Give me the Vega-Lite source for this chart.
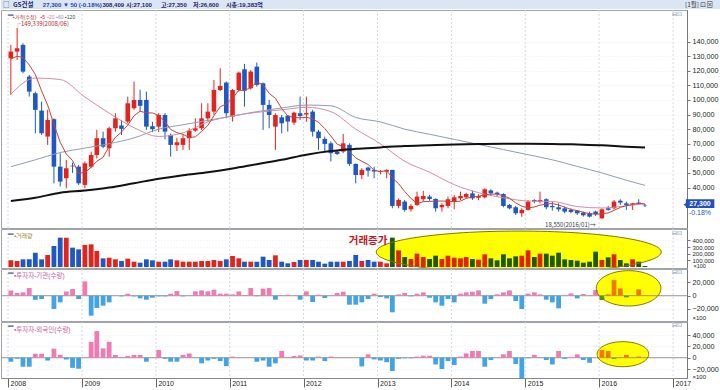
{
"$schema": "https://vega.github.io/schema/vega-lite/v6.json",
"padding": 0,
"background": "#ffffff",
"spacing": 1,
"bounds": "flush",
"config": {
 "view": {"stroke": "#a0a4aa", "strokeWidth": 1},
 "font": "Noto Sans CJK KR",
 "axis": {"labelOverlap": false, "labelSeparation": 0}
},
"datasets": {
 "yrs": [{"t":"2008-01-01"},{"t":"2009-01-01"},{"t":"2010-01-01"},{"t":"2011-01-01"},{"t":"2012-01-01"},{"t":"2013-01-01"},{"t":"2014-01-01"},{"t":"2015-01-01"},{"t":"2016-01-01"},{"t":"2017-01-01"}],
 "m": [
{"d":"2008-01-15","o":128500,"h":137700,"l":103400,"c":133100,"m5":128000,"v":100000,"ins":8000,"frn":-7000},
{"d":"2008-02-15","o":133100,"h":149300,"l":127400,"c":135400,"m5":130000,"v":90000,"ins":4000,"frn":-2000},
{"d":"2008-03-15","o":137700,"h":138800,"l":118300,"c":119400,"m5":129000,"v":115000,"ins":5000,"frn":-16000},
{"d":"2008-04-15","o":116000,"h":117100,"l":102300,"c":105700,"m5":124000,"v":115000,"ins":11500,"frn":-16000},
{"d":"2008-05-15","o":104600,"h":105700,"l":77200,"c":93200,"m5":117400,"v":215000,"ins":-6000,"frn":7000},
{"d":"2008-06-15","o":92700,"h":98900,"l":76000,"c":77200,"m5":106200,"v":115000,"ins":-5000,"frn":7000},
{"d":"2008-07-15","o":74900,"h":93200,"l":69200,"c":86300,"m5":96400,"v":180000,"ins":500,"frn":-5000},
{"d":"2008-08-15","o":86800,"h":87400,"l":42900,"c":54300,"m5":83300,"v":315000,"ins":-20000,"frn":16000},
{"d":"2008-09-15","o":54300,"h":63500,"l":40700,"c":44100,"m5":71000,"v":440000,"ins":-10000,"frn":5000},
{"d":"2008-10-15","o":46400,"h":58900,"l":39500,"c":53200,"m5":63000,"v":440000,"ins":6500,"frn":-3000},
{"d":"2008-11-15","o":55000,"h":57000,"l":50000,"c":54500,"m5":58500,"v":290000,"ins":10000,"frn":-18000},
{"d":"2008-12-15","o":54300,"h":55500,"l":41800,"c":42900,"m5":49800,"v":265000,"ins":-5000,"frn":-19500},
{"d":"2009-01-15","o":41800,"h":57800,"l":39500,"c":56600,"m5":50300,"v":330000,"ins":21500,"frn":500},
{"d":"2009-02-15","o":54300,"h":64600,"l":53200,"c":62300,"m5":53900,"v":340000,"ins":-30000,"frn":28000},
{"d":"2009-03-15","o":62300,"h":79500,"l":60000,"c":73800,"m5":58000,"v":240000,"ins":-18500,"frn":47000},
{"d":"2009-04-15","o":73800,"h":78300,"l":66900,"c":68000,"m5":60700,"v":130000,"ins":-15000,"frn":16500},
{"d":"2009-05-15","o":66900,"h":81700,"l":61200,"c":80600,"m5":68300,"v":140000,"ins":-10000,"frn":28000},
{"d":"2009-06-15","o":80600,"h":90900,"l":78300,"c":87400,"m5":74400,"v":115000,"ins":500,"frn":5000},
{"d":"2009-07-15","o":82500,"h":86000,"l":76000,"c":80200,"m5":78000,"v":90000,"ins":-1000,"frn":1000},
{"d":"2009-08-15","o":85200,"h":102300,"l":84000,"c":97700,"m5":82800,"v":125000,"ins":3000,"frn":3000},
{"d":"2009-09-15","o":94300,"h":112600,"l":93200,"c":100000,"m5":89200,"v":80000,"ins":-1000,"frn":5000},
{"d":"2009-10-15","o":100000,"h":107000,"l":92000,"c":96000,"m5":92300,"v":65000,"ins":-4000,"frn":5000},
{"d":"2009-11-15","o":100000,"h":105700,"l":79500,"c":81700,"m5":91100,"v":115000,"ins":-6000,"frn":-7000},
{"d":"2009-12-15","o":82000,"h":85000,"l":78000,"c":80000,"m5":91100,"v":100000,"ins":-3000,"frn":500},
{"d":"2010-01-15","o":81700,"h":91000,"l":78000,"c":89700,"m5":89500,"v":80000,"ins":-1000,"frn":13500},
{"d":"2010-02-15","o":89700,"h":91000,"l":73000,"c":78300,"m5":85100,"v":80000,"ins":-1000,"frn":-2000},
{"d":"2010-03-15","o":76000,"h":77000,"l":61200,"c":69200,"m5":79800,"v":115000,"ins":3000,"frn":-7000},
{"d":"2010-04-15","o":69000,"h":74000,"l":65000,"c":71000,"m5":77600,"v":100000,"ins":7000,"frn":-7000},
{"d":"2010-05-15","o":69200,"h":76000,"l":65800,"c":73800,"m5":76400,"v":80000,"ins":-1000,"frn":5000},
{"d":"2010-06-15","o":73800,"h":80600,"l":65800,"c":79000,"m5":74300,"v":80000,"ins":500,"frn":7500},
{"d":"2010-07-15","o":79000,"h":87400,"l":78300,"c":80600,"m5":74700,"v":80000,"ins":6500,"frn":500},
{"d":"2010-08-15","o":80600,"h":97700,"l":79500,"c":87400,"m5":78400,"v":90000,"ins":8000,"frn":-10000},
{"d":"2010-09-15","o":87400,"h":97700,"l":85200,"c":92000,"m5":82600,"v":90000,"ins":6500,"frn":-5000},
{"d":"2010-10-15","o":92000,"h":113700,"l":89700,"c":106800,"m5":89200,"v":105000,"ins":9000,"frn":-2000},
{"d":"2010-11-15","o":106800,"h":121700,"l":106000,"c":109600,"m5":95300,"v":90000,"ins":3000,"frn":-6000},
{"d":"2010-12-15","o":111900,"h":112600,"l":87400,"c":90900,"m5":97300,"v":115000,"ins":3000,"frn":-15000},
{"d":"2011-01-15","o":88600,"h":107500,"l":85200,"c":106800,"m5":101200,"v":165000,"ins":2000,"frn":2000},
{"d":"2011-02-15","o":106800,"h":119400,"l":105700,"c":118700,"m5":106600,"v":130000,"ins":6500,"frn":500},
{"d":"2011-03-15","o":121000,"h":124700,"l":95400,"c":106400,"m5":106500,"v":80000,"ins":1000,"frn":500},
{"d":"2011-04-15","o":108000,"h":120500,"l":107000,"c":119400,"m5":108400,"v":80000,"ins":11500,"frn":500},
{"d":"2011-05-15","o":122800,"h":125600,"l":109100,"c":110300,"m5":112300,"v":80000,"ins":-1000,"frn":-7000},
{"d":"2011-06-15","o":111400,"h":112000,"l":79500,"c":96600,"m5":110300,"v":155000,"ins":10500,"frn":-5000},
{"d":"2011-07-15","o":96600,"h":100000,"l":80600,"c":89700,"m5":104500,"v":105000,"ins":11500,"frn":-16000},
{"d":"2011-08-15","o":81700,"h":90900,"l":65800,"c":89700,"m5":101100,"v":175000,"ins":-6000,"frn":-10000},
{"d":"2011-09-15","o":88100,"h":89700,"l":77200,"c":84000,"m5":94100,"v":80000,"ins":500,"frn":12000},
{"d":"2011-10-15","o":89200,"h":89700,"l":78300,"c":85200,"m5":89000,"v":55000,"ins":1500,"frn":500},
{"d":"2011-11-15","o":84500,"h":92000,"l":82900,"c":91300,"m5":88000,"v":75000,"ins":500,"frn":3000},
{"d":"2011-12-15","o":90900,"h":102300,"l":86300,"c":89000,"m5":87800,"v":105000,"ins":-6000,"frn":4000},
{"d":"2012-01-15","o":90000,"h":102300,"l":85000,"c":91000,"m5":88100,"v":105000,"ins":6500,"frn":-5000},
{"d":"2012-02-15","o":92000,"h":93200,"l":74900,"c":78300,"m5":87000,"v":105000,"ins":-9500,"frn":-5000},
{"d":"2012-03-15","o":78300,"h":79500,"l":65800,"c":73800,"m5":84700,"v":80000,"ins":1500,"frn":2000},
{"d":"2012-04-15","o":73300,"h":74900,"l":64600,"c":69900,"m5":80400,"v":50000,"ins":-3500,"frn":-6000},
{"d":"2012-05-15","o":70300,"h":71500,"l":57800,"c":63500,"m5":75300,"v":80000,"ins":500,"frn":2000},
{"d":"2012-06-15","o":64600,"h":65800,"l":62300,"c":63000,"m5":69700,"v":80000,"ins":4000,"frn":500},
{"d":"2012-07-15","o":64600,"h":76700,"l":63500,"c":70300,"m5":68100,"v":80000,"ins":6000,"frn":500},
{"d":"2012-08-15","o":69200,"h":70300,"l":54800,"c":56200,"m5":64600,"v":90000,"ins":-13500,"frn":1000},
{"d":"2012-09-15","o":56200,"h":56500,"l":42900,"c":48600,"m5":60300,"v":180000,"ins":-13500,"frn":500},
{"d":"2012-10-15","o":48600,"h":53200,"l":45700,"c":52100,"m5":58000,"v":90000,"ins":-10000,"frn":-15500},
{"d":"2012-11-15","o":53700,"h":54300,"l":47500,"c":51600,"m5":55800,"v":105000,"ins":-5000,"frn":6000},
{"d":"2012-12-15","o":52100,"h":54300,"l":46400,"c":51000,"m5":51900,"v":80000,"ins":3000,"frn":-3000},
{"d":"2013-01-15","o":51000,"h":52000,"l":49000,"c":51400,"m5":50900,"v":80000,"ins":-2000,"frn":-5000},
{"d":"2013-02-15","o":51000,"h":52500,"l":46400,"c":52100,"m5":51600,"v":55000,"ins":-4000,"frn":-8000},
{"d":"2013-03-15","o":52100,"h":52100,"l":25800,"c":27400,"m5":46600,"v":440000,"ins":-25000,"frn":-23600},
{"d":"2013-04-15","o":27400,"h":32600,"l":25800,"c":31500,"m5":42600,"v":250000,"ins":2000,"frn":-2000},
{"d":"2013-05-15","o":30400,"h":31500,"l":23500,"c":24700,"m5":37300,"v":150000,"ins":4000,"frn":-1000},
{"d":"2013-06-15","o":25100,"h":28800,"l":23500,"c":27400,"m5":32600,"v":120000,"ins":-1000,"frn":-1000},
{"d":"2013-07-15","o":28100,"h":37200,"l":27400,"c":33800,"m5":29000,"v":200000,"ins":3000,"frn":2000},
{"d":"2013-08-15","o":32000,"h":37700,"l":30400,"c":34200,"m5":30300,"v":150000,"ins":5000,"frn":3500},
{"d":"2013-09-15","o":33800,"h":35000,"l":31000,"c":32200,"m5":30500,"v":120000,"ins":-3000,"frn":3500},
{"d":"2013-10-15","o":32200,"h":32600,"l":23500,"c":25800,"m5":30700,"v":170000,"ins":-10000,"frn":-12000},
{"d":"2013-11-15","o":26500,"h":29200,"l":23500,"c":28100,"m5":30800,"v":120000,"ins":-15000,"frn":-20000},
{"d":"2013-12-15","o":27400,"h":33800,"l":25800,"c":32000,"m5":30500,"v":170000,"ins":-5000,"frn":-6000},
{"d":"2014-01-15","o":30400,"h":34900,"l":25100,"c":33300,"m5":30300,"v":140000,"ins":-10000,"frn":-13000},
{"d":"2014-02-15","o":32600,"h":37200,"l":31500,"c":34200,"m5":30700,"v":130000,"ins":3000,"frn":2000},
{"d":"2014-03-15","o":33300,"h":36500,"l":32600,"c":35600,"m5":32600,"v":150000,"ins":5000,"frn":7700},
{"d":"2014-04-15","o":36000,"h":37900,"l":31500,"c":32600,"m5":33500,"v":120000,"ins":6000,"frn":12000},
{"d":"2014-05-15","o":33000,"h":35300,"l":31300,"c":34300,"m5":34000,"v":110000,"ins":8000,"frn":12000},
{"d":"2014-06-15","o":33300,"h":39500,"l":32600,"c":38800,"m5":35100,"v":190000,"ins":-12000,"frn":-16000},
{"d":"2014-07-15","o":38000,"h":38800,"l":34300,"c":36100,"m5":35500,"v":130000,"ins":-5000,"frn":-4000},
{"d":"2014-08-15","o":36500,"h":37200,"l":33800,"c":35600,"m5":35500,"v":100000,"ins":2000,"frn":1000},
{"d":"2014-09-15","o":35600,"h":36100,"l":26500,"c":27400,"m5":34400,"v":190000,"ins":5000,"frn":6000},
{"d":"2014-10-15","o":28100,"h":28800,"l":25100,"c":25800,"m5":32700,"v":130000,"ins":8000,"frn":12000},
{"d":"2014-11-15","o":26500,"h":27400,"l":21200,"c":22400,"m5":29500,"v":160000,"ins":-8000,"frn":-11000},
{"d":"2014-12-15","o":22400,"h":25800,"l":20000,"c":24700,"m5":27200,"v":170000,"ins":-20000,"frn":-36500},
{"d":"2015-01-15","o":24700,"h":31500,"l":24200,"c":30400,"m5":26100,"v":250000,"ins":3000,"frn":-1000},
{"d":"2015-02-15","o":31500,"h":32000,"l":29200,"c":30400,"m5":26700,"v":150000,"ins":5000,"frn":5000},
{"d":"2015-03-15","o":30400,"h":37200,"l":29200,"c":31500,"m5":27900,"v":200000,"ins":2000,"frn":1000},
{"d":"2015-04-15","o":32000,"h":32600,"l":25100,"c":26500,"m5":28700,"v":200000,"ins":-6000,"frn":-4000},
{"d":"2015-05-15","o":27400,"h":30400,"l":24200,"c":26500,"m5":29100,"v":170000,"ins":-10000,"frn":-12000},
{"d":"2015-06-15","o":26500,"h":29200,"l":23500,"c":25100,"m5":28000,"v":215000,"ins":-19000,"frn":12000},
{"d":"2015-07-15","o":25800,"h":26900,"l":22400,"c":23500,"m5":26600,"v":115000,"ins":500,"frn":-2000},
{"d":"2015-08-15","o":24700,"h":25800,"l":22400,"c":23300,"m5":25000,"v":105000,"ins":3500,"frn":1500},
{"d":"2015-09-15","o":24200,"h":24700,"l":21200,"c":22400,"m5":24200,"v":95000,"ins":-4000,"frn":6000},
{"d":"2015-10-15","o":22800,"h":23500,"l":20100,"c":21000,"m5":23100,"v":65000,"ins":2500,"frn":-4000},
{"d":"2015-11-15","o":22400,"h":23500,"l":19500,"c":20100,"m5":22100,"v":80000,"ins":500,"frn":-9000},
{"d":"2015-12-15","o":23500,"h":24200,"l":20500,"c":21900,"m5":21700,"v":230000,"ins":8500,"frn":500},
{"d":"2016-01-15","o":18950,"h":25800,"l":18550,"c":25100,"m5":22100,"v":105000,"ins":-6500,"frn":13500},
{"d":"2016-02-15","o":25800,"h":27400,"l":24200,"c":24700,"m5":22600,"v":145000,"ins":2000,"frn":12000},
{"d":"2016-03-15","o":25800,"h":31500,"l":25100,"c":30400,"m5":24400,"v":190000,"ins":23500,"frn":-2000},
{"d":"2016-04-15","o":31000,"h":32000,"l":28100,"c":29700,"m5":26400,"v":105000,"ins":11000,"frn":500},
{"d":"2016-05-15","o":29200,"h":30400,"l":24700,"c":28100,"m5":27600,"v":55000,"ins":-2500,"frn":5000},
{"d":"2016-06-15","o":28500,"h":29500,"l":24700,"c":29200,"m5":28400,"v":115000,"ins":500,"frn":500},
{"d":"2016-07-15","o":29700,"h":32000,"l":28100,"c":28800,"m5":29200,"v":80000,"ins":9500,"frn":2000},
{"d":"2016-08-15","o":27600,"h":28800,"l":26600,"c":27300,"m5":28600,"v":15000,"ins":500,"frn":500}
 ],
 "ma": [
{"d":"2008-01-15","a":104000,"b":54300,"k":30800},
{"d":"2008-05-15","a":115000,"b":59000,"k":33000},
{"d":"2008-09-15","a":114000,"b":64000,"k":36500},
{"d":"2009-01-15","a":102000,"b":67000,"k":38000},
{"d":"2009-05-15","a":91000,"b":70000,"k":40000},
{"d":"2009-09-15","a":81000,"b":74000,"k":43000},
{"d":"2010-01-15","a":75000,"b":80000,"k":46000},
{"d":"2010-05-15","a":77500,"b":83000,"k":48500},
{"d":"2010-09-15","a":85000,"b":86000,"k":50500},
{"d":"2011-01-15","a":89000,"b":89000,"k":53000},
{"d":"2011-05-15","a":91500,"b":92000,"k":56000},
{"d":"2011-09-15","a":93200,"b":94500,"k":59000},
{"d":"2012-01-15","a":95000,"b":96500,"k":62500},
{"d":"2012-05-15","a":92000,"b":96000,"k":65000},
{"d":"2012-09-15","a":80000,"b":88000,"k":66500},
{"d":"2013-01-15","a":70000,"b":85000,"k":67500},
{"d":"2013-05-15","a":58000,"b":80000,"k":68500},
{"d":"2013-09-15","a":50500,"b":76500,"k":69000},
{"d":"2014-01-15","a":42000,"b":73000,"k":69500},
{"d":"2014-05-15","a":36500,"b":69500,"k":69800},
{"d":"2014-09-15","a":33000,"b":66000,"k":70000},
{"d":"2015-01-15","a":30800,"b":62500,"k":70000},
{"d":"2015-05-15","a":30500,"b":59000,"k":69900},
{"d":"2015-09-15","a":27000,"b":54500,"k":69500},
{"d":"2016-01-15","a":26000,"b":50000,"k":69000},
{"d":"2016-05-15","a":27500,"b":45000,"k":68000},
{"d":"2016-08-15","a":29000,"b":41500,"k":67500}
 ]
},
"vconcat": [
 {
  "width": 686, "height": 9,
  "view": {"stroke": null},
  "layer": [
   {"data": {"values": [{"s": "2007-12-22", "e": "2017-08-20"}]},
    "mark": {"type": "rect", "color": "#dbe6f5"},
    "encoding": {"x": {"field": "s", "type": "temporal", "scale": {"type": "utc", "domain": [1198281600000, 1487030400000]}, "axis": null}, "x2": {"field": "e"}}},
   {"data": {"values": [{"d": "2008-01-01", "t": "□"}, {"d": "2017-02-04", "t": "[1월]  ⊡⊠"}]},
    "mark": {"type": "text", "align": "left", "baseline": "middle", "fontSize": 6.5, "color": "#333333"},
    "encoding": {"x": {"field": "d", "type": "temporal", "axis": null}, "text": {"field": "t"}}},
   {"data": {"values": [{"d": "2008-02-18", "t": "GS건설"}]},
    "mark": {"type": "text", "align": "left", "baseline": "middle", "fontSize": 6.5, "fontWeight": "bold", "color": "#1b2470"},
    "encoding": {"x": {"field": "d", "type": "temporal", "axis": null}, "text": {"field": "t"}}},
   {"data": {"values": [{"d": "2009-04-29", "t": "308,409"}, {"d": "2009-08-22", "t": "시:27,100"}, {"d": "2010-02-08", "t": "고:27,350"}, {"d": "2010-07-14", "t": "저:26,600"}, {"d": "2010-12-22", "t": "시총:19,383억"}]},
    "mark": {"type": "text", "align": "left", "baseline": "middle", "fontSize": 6, "fontWeight": "bold", "font": "'Liberation Sans','Noto Sans CJK KR'", "color": "#1b2470"},
    "encoding": {"x": {"field": "d", "type": "temporal", "axis": null}, "text": {"field": "t"}}},
   {"data": {"values": [{"d": "2008-07-13", "t": "27,300 ▼ 50 (-0.18%)"}]},
    "mark": {"type": "text", "align": "left", "baseline": "middle", "fontSize": 6, "fontWeight": "bold", "font": "'Liberation Sans','Noto Sans CJK KR'", "color": "#1f3fc0"},
    "encoding": {"x": {"field": "d", "type": "temporal", "axis": null}, "text": {"field": "t"}}}
  ]
 },
 {
  "width": 686, "height": 218,
  "layer": [
   {"data": {"name": "yrs"},
    "mark": {"type": "rule", "color": "#d3d9e2", "strokeDash": [2, 2], "strokeWidth": 1},
    "encoding": {"x": {"field": "t", "type": "temporal", "scale": {"type": "utc", "domain": [1198281600000, 1487030400000]}, "axis": null}}},
   {"data": {"name": "m"},
    "mark": {"type": "rule", "strokeWidth": 1},
    "encoding": {
     "x": {"field": "d", "type": "temporal", "axis": null},
     "y": {"field": "l", "type": "quantitative", "scale": {"domain": [12300, 161600], "nice": false, "zero": false}, "axis": {"orient": "right", "title": null, "grid": true, "gridColor": "#e9edf2", "gridDash": [1, 2], "format": ",d", "values": [40000, 50000, 60000, 70000, 80000, 90000, 100000, 110000, 120000, 130000, 140000], "labelOverlap": false, "labelSeparation": 0, "labelFont": "Liberation Sans", "labelFontSize": 7.2, "labelColor": "#222222", "tickSize": 3, "tickColor": "#777777", "domainColor": "#777777", "labelPadding": 2}},
     "y2": {"field": "h"},
     "color": {"condition": {"test": "datum.c >= datum.o", "value": "#e3241d"}, "value": "#1e58c4"}
    }},
   {"data": {"name": "m"},
    "mark": {"type": "bar", "width": 4.6},
    "encoding": {
     "x": {"field": "d", "type": "temporal", "axis": null},
     "y": {"field": "o", "type": "quantitative", "axis": {"orient": "right", "title": null, "grid": true, "gridColor": "#e9edf2", "gridDash": [1, 2], "format": ",d", "values": [40000, 50000, 60000, 70000, 80000, 90000, 100000, 110000, 120000, 130000, 140000], "labelOverlap": false, "labelSeparation": 0, "labelFont": "Liberation Sans", "labelFontSize": 7.2, "labelColor": "#222222", "tickSize": 3, "tickColor": "#777777", "domainColor": "#777777", "labelPadding": 2}},
     "y2": {"field": "c"},
     "color": {"condition": {"test": "datum.c >= datum.o", "value": "#e3241d"}, "value": "#1e58c4"}
    }},
   {"data": {"name": "ma"},
    "mark": {"type": "line", "strokeWidth": 1, "color": "#909db3", "interpolate": "monotone"},
    "encoding": {"x": {"field": "d", "type": "temporal", "axis": null}, "y": {"field": "b", "type": "quantitative", "axis": {"orient": "right", "title": null, "grid": true, "gridColor": "#e9edf2", "gridDash": [1, 2], "format": ",d", "values": [40000, 50000, 60000, 70000, 80000, 90000, 100000, 110000, 120000, 130000, 140000], "labelOverlap": false, "labelSeparation": 0, "labelFont": "Liberation Sans", "labelFontSize": 7.2, "labelColor": "#222222", "tickSize": 3, "tickColor": "#777777", "domainColor": "#777777", "labelPadding": 2}}}},
   {"data": {"name": "ma"},
    "mark": {"type": "line", "strokeWidth": 1, "color": "#d98aa8", "interpolate": "monotone"},
    "encoding": {"x": {"field": "d", "type": "temporal", "axis": null}, "y": {"field": "a", "type": "quantitative", "axis": {"orient": "right", "title": null, "grid": true, "gridColor": "#e9edf2", "gridDash": [1, 2], "format": ",d", "values": [40000, 50000, 60000, 70000, 80000, 90000, 100000, 110000, 120000, 130000, 140000], "labelOverlap": false, "labelSeparation": 0, "labelFont": "Liberation Sans", "labelFontSize": 7.2, "labelColor": "#222222", "tickSize": 3, "tickColor": "#777777", "domainColor": "#777777", "labelPadding": 2}}}},
   {"data": {"name": "m"},
    "mark": {"type": "line", "strokeWidth": 1, "color": "#c2453e"},
    "encoding": {"x": {"field": "d", "type": "temporal", "axis": null}, "y": {"field": "m5", "type": "quantitative", "axis": {"orient": "right", "title": null, "grid": true, "gridColor": "#e9edf2", "gridDash": [1, 2], "format": ",d", "values": [40000, 50000, 60000, 70000, 80000, 90000, 100000, 110000, 120000, 130000, 140000], "labelOverlap": false, "labelSeparation": 0, "labelFont": "Liberation Sans", "labelFontSize": 7.2, "labelColor": "#222222", "tickSize": 3, "tickColor": "#777777", "domainColor": "#777777", "labelPadding": 2}}}},
   {"data": {"name": "ma"},
    "mark": {"type": "line", "strokeWidth": 2, "color": "#111111", "interpolate": "monotone"},
    "encoding": {"x": {"field": "d", "type": "temporal", "axis": null}, "y": {"field": "k", "type": "quantitative", "axis": {"orient": "right", "title": null, "grid": true, "gridColor": "#e9edf2", "gridDash": [1, 2], "format": ",d", "values": [40000, 50000, 60000, 70000, 80000, 90000, 100000, 110000, 120000, 130000, 140000], "labelOverlap": false, "labelSeparation": 0, "labelFont": "Liberation Sans", "labelFontSize": 7.2, "labelColor": "#222222", "tickSize": 3, "tickColor": "#777777", "domainColor": "#777777", "labelPadding": 2}}}},
   {"data": {"values": [{"d": "2008-01-01", "p": 158800, "t": "▬"}, {"d": "2016-12-26", "p": 158800, "t": "⊟⊡"}]},
    "mark": {"type": "text", "align": "left", "baseline": "middle", "fontSize": 5.5, "font": "'Liberation Sans','Noto Sans CJK KR'", "color": "#6f7fa6"},
    "encoding": {"x": {"field": "d", "type": "temporal", "axis": null}, "y": {"field": "p", "type": "quantitative", "axis": {"orient": "right", "title": null, "grid": true, "gridColor": "#e9edf2", "gridDash": [1, 2], "format": ",d", "values": [40000, 50000, 60000, 70000, 80000, 90000, 100000, 110000, 120000, 130000, 140000], "labelOverlap": false, "labelSeparation": 0, "labelFont": "Liberation Sans", "labelFontSize": 7.2, "labelColor": "#222222", "tickSize": 3, "tickColor": "#777777", "domainColor": "#777777", "labelPadding": 2}}, "text": {"field": "t"}}},
   {"data": {"values": [{"d": "2008-01-25", "p": 157000, "t": "▪가격(수정)"}, {"d": "2008-06-10", "p": 157000, "t": "▪5"}]},
    "mark": {"type": "text", "align": "left", "baseline": "middle", "fontSize": 5, "font": "'Liberation Sans','Noto Sans CJK KR'", "color": "#b0302a"},
    "encoding": {"x": {"field": "d", "type": "temporal", "axis": null}, "y": {"field": "p", "type": "quantitative", "axis": {"orient": "right", "title": null, "grid": true, "gridColor": "#e9edf2", "gridDash": [1, 2], "format": ",d", "values": [40000, 50000, 60000, 70000, 80000, 90000, 100000, 110000, 120000, 130000, 140000], "labelOverlap": false, "labelSeparation": 0, "labelFont": "Liberation Sans", "labelFontSize": 7.2, "labelColor": "#222222", "tickSize": 3, "tickColor": "#777777", "domainColor": "#777777", "labelPadding": 2}}, "text": {"field": "t"}}},
   {"data": {"values": [{"d": "2008-07-13", "p": 157000, "t": "▪20"}]},
    "mark": {"type": "text", "align": "left", "baseline": "middle", "fontSize": 5, "font": "'Liberation Sans','Noto Sans CJK KR'", "color": "#e07aa6"},
    "encoding": {"x": {"field": "d", "type": "temporal", "axis": null}, "y": {"field": "p", "type": "quantitative", "axis": {"orient": "right", "title": null, "grid": true, "gridColor": "#e9edf2", "gridDash": [1, 2], "format": ",d", "values": [40000, 50000, 60000, 70000, 80000, 90000, 100000, 110000, 120000, 130000, 140000], "labelOverlap": false, "labelSeparation": 0, "labelFont": "Liberation Sans", "labelFontSize": 7.2, "labelColor": "#222222", "tickSize": 3, "tickColor": "#777777", "domainColor": "#777777", "labelPadding": 2}}, "text": {"field": "t"}}},
   {"data": {"values": [{"d": "2008-08-26", "p": 157000, "t": "▪60"}]},
    "mark": {"type": "text", "align": "left", "baseline": "middle", "fontSize": 5, "font": "'Liberation Sans','Noto Sans CJK KR'", "color": "#8a98b0"},
    "encoding": {"x": {"field": "d", "type": "temporal", "axis": null}, "y": {"field": "p", "type": "quantitative", "axis": {"orient": "right", "title": null, "grid": true, "gridColor": "#e9edf2", "gridDash": [1, 2], "format": ",d", "values": [40000, 50000, 60000, 70000, 80000, 90000, 100000, 110000, 120000, 130000, 140000], "labelOverlap": false, "labelSeparation": 0, "labelFont": "Liberation Sans", "labelFontSize": 7.2, "labelColor": "#222222", "tickSize": 3, "tickColor": "#777777", "domainColor": "#777777", "labelPadding": 2}}, "text": {"field": "t"}}},
   {"data": {"values": [{"d": "2008-10-09", "p": 157000, "t": "▪120"}]},
    "mark": {"type": "text", "align": "left", "baseline": "middle", "fontSize": 5, "font": "'Liberation Sans','Noto Sans CJK KR'", "color": "#444444"},
    "encoding": {"x": {"field": "d", "type": "temporal", "axis": null}, "y": {"field": "p", "type": "quantitative", "axis": {"orient": "right", "title": null, "grid": true, "gridColor": "#e9edf2", "gridDash": [1, 2], "format": ",d", "values": [40000, 50000, 60000, 70000, 80000, 90000, 100000, 110000, 120000, 130000, 140000], "labelOverlap": false, "labelSeparation": 0, "labelFont": "Liberation Sans", "labelFontSize": 7.2, "labelColor": "#222222", "tickSize": 3, "tickColor": "#777777", "domainColor": "#777777", "labelPadding": 2}}, "text": {"field": "t"}}},
   {"data": {"values": [{"d": "2008-02-04", "p": 152300, "t": "┌149,339(2008/06)"}]},
    "mark": {"type": "text", "align": "left", "baseline": "middle", "fontSize": 6, "color": "#a82c2c"},
    "encoding": {"x": {"field": "d", "type": "temporal", "axis": null}, "y": {"field": "p", "type": "quantitative", "axis": {"orient": "right", "title": null, "grid": true, "gridColor": "#e9edf2", "gridDash": [1, 2], "format": ",d", "values": [40000, 50000, 60000, 70000, 80000, 90000, 100000, 110000, 120000, 130000, 140000], "labelOverlap": false, "labelSeparation": 0, "labelFont": "Liberation Sans", "labelFontSize": 7.2, "labelColor": "#222222", "tickSize": 3, "tickColor": "#777777", "domainColor": "#777777", "labelPadding": 2}}, "text": {"field": "t"}}},
   {"data": {"values": [{"d": "2015-04-09", "p": 14400, "t": "18,550(2016/01)→"}]},
    "mark": {"type": "text", "align": "left", "baseline": "middle", "fontSize": 6, "color": "#333a55"},
    "encoding": {"x": {"field": "d", "type": "temporal", "axis": null}, "y": {"field": "p", "type": "quantitative", "axis": {"orient": "right", "title": null, "grid": true, "gridColor": "#e9edf2", "gridDash": [1, 2], "format": ",d", "values": [40000, 50000, 60000, 70000, 80000, 90000, 100000, 110000, 120000, 130000, 140000], "labelOverlap": false, "labelSeparation": 0, "labelFont": "Liberation Sans", "labelFontSize": 7.2, "labelColor": "#222222", "tickSize": 3, "tickColor": "#777777", "domainColor": "#777777", "labelPadding": 2}}, "text": {"field": "t"}}},
   {"data": {"values": [{"d1": "2017-03-05", "d2": "2017-07-24", "p1": 26000, "p2": 32000}]},
    "mark": {"type": "rect", "color": "#2350c0"},
    "encoding": {"x": {"field": "d1", "type": "temporal", "axis": null}, "x2": {"field": "d2"}, "y": {"field": "p1", "type": "quantitative", "axis": {"orient": "right", "title": null, "grid": true, "gridColor": "#e9edf2", "gridDash": [1, 2], "format": ",d", "values": [40000, 50000, 60000, 70000, 80000, 90000, 100000, 110000, 120000, 130000, 140000], "labelOverlap": false, "labelSeparation": 0, "labelFont": "Liberation Sans", "labelFontSize": 7.2, "labelColor": "#222222", "tickSize": 3, "tickColor": "#777777", "domainColor": "#777777", "labelPadding": 2}}, "y2": {"field": "p2"}}},
   {"data": {"values": [{"d": "2017-02-19", "p": 29000, "t": "◀"}]},
    "mark": {"type": "text", "align": "left", "baseline": "middle", "fontSize": 5, "font": "'Liberation Sans','Noto Sans CJK KR'", "color": "#2350c0"},
    "encoding": {"x": {"field": "d", "type": "temporal", "axis": null}, "y": {"field": "p", "type": "quantitative", "axis": {"orient": "right", "title": null, "grid": true, "gridColor": "#e9edf2", "gridDash": [1, 2], "format": ",d", "values": [40000, 50000, 60000, 70000, 80000, 90000, 100000, 110000, 120000, 130000, 140000], "labelOverlap": false, "labelSeparation": 0, "labelFont": "Liberation Sans", "labelFontSize": 7.2, "labelColor": "#222222", "tickSize": 3, "tickColor": "#777777", "domainColor": "#777777", "labelPadding": 2}}, "text": {"field": "t"}}},
   {"data": {"values": [{"d": "2017-05-14", "p": 29000, "t": "27,300"}]},
    "mark": {"type": "text", "align": "center", "baseline": "middle", "fontSize": 7, "font": "Liberation Sans", "fontWeight": "bold", "color": "#ffffff"},
    "encoding": {"x": {"field": "d", "type": "temporal", "axis": null}, "y": {"field": "p", "type": "quantitative", "axis": {"orient": "right", "title": null, "grid": true, "gridColor": "#e9edf2", "gridDash": [1, 2], "format": ",d", "values": [40000, 50000, 60000, 70000, 80000, 90000, 100000, 110000, 120000, 130000, 140000], "labelOverlap": false, "labelSeparation": 0, "labelFont": "Liberation Sans", "labelFontSize": 7.2, "labelColor": "#222222", "tickSize": 3, "tickColor": "#777777", "domainColor": "#777777", "labelPadding": 2}}, "text": {"field": "t"}}},
   {"data": {"values": [{"d": "2017-05-14", "p": 22600, "t": "-0.18%"}]},
    "mark": {"type": "text", "align": "center", "baseline": "middle", "fontSize": 7, "font": "Liberation Sans", "color": "#2a50b8"},
    "encoding": {"x": {"field": "d", "type": "temporal", "axis": null}, "y": {"field": "p", "type": "quantitative", "axis": {"orient": "right", "title": null, "grid": true, "gridColor": "#e9edf2", "gridDash": [1, 2], "format": ",d", "values": [40000, 50000, 60000, 70000, 80000, 90000, 100000, 110000, 120000, 130000, 140000], "labelOverlap": false, "labelSeparation": 0, "labelFont": "Liberation Sans", "labelFontSize": 7.2, "labelColor": "#222222", "tickSize": 3, "tickColor": "#777777", "domainColor": "#777777", "labelPadding": 2}}, "text": {"field": "t"}}}
  ]
 },
 {
  "width": 686, "height": 39,
  "layer": [
   {"data": {"name": "yrs"},
    "mark": {"type": "rule", "color": "#d3d9e2", "strokeDash": [2, 2], "strokeWidth": 1},
    "encoding": {"x": {"field": "t", "type": "temporal", "scale": {"type": "utc", "domain": [1198281600000, 1487030400000]}, "axis": null}}},
   {"data": {"values": [{"d": "2014-11-30", "v": 225000}]},
    "mark": {"type": "point", "shape": "M-1,0C-1,-0.0812,-0.5523,-0.147,0,-0.147C0.5523,-0.147,1,-0.0812,1,0C1,0.0812,0.5523,0.147,0,0.147C-0.5523,0.147,-1,0.0812,-1,0Z", "size": 81225, "filled": true, "color": "#ffff00", "opacity": 1, "strokeWidth": 0, "clip": true},
    "encoding": {"x": {"field": "d", "type": "temporal", "axis": null}, "y": {"field": "v", "type": "quantitative", "scale": {"domain": [-15000, 570000], "nice": false}, "axis": {"orient": "right", "title": "×100", "grid": true, "gridColor": "#e9edf2", "gridDash": [1, 2], "format": ",d", "values": [100000, 200000, 300000, 400000], "labelOverlap": false, "labelSeparation": 0, "labelFont": "Liberation Sans", "labelFontSize": 6, "labelColor": "#222222", "tickSize": 3, "tickColor": "#777777", "domainColor": "#777777", "labelPadding": 2, "titleFont": "Liberation Sans", "titleFontSize": 5.5, "titleFontWeight": "normal", "titleColor": "#222222", "titleAngle": 0, "titleAlign": "left", "titleBaseline": "middle", "titleX": 6, "titleY": 36}}}},
   {"data": {"name": "m"},
    "mark": {"type": "bar", "width": 4.8},
    "encoding": {
     "x": {"field": "d", "type": "temporal", "axis": null},
     "y": {"field": "v", "type": "quantitative", "axis": {"orient": "right", "title": "×100", "grid": true, "gridColor": "#e9edf2", "gridDash": [1, 2], "format": ",d", "values": [100000, 200000, 300000, 400000], "labelOverlap": false, "labelSeparation": 0, "labelFont": "Liberation Sans", "labelFontSize": 6, "labelColor": "#222222", "tickSize": 3, "tickColor": "#777777", "domainColor": "#777777", "labelPadding": 2, "titleFont": "Liberation Sans", "titleFontSize": 5.5, "titleFontWeight": "normal", "titleColor": "#222222", "titleAngle": 0, "titleAlign": "left", "titleBaseline": "middle", "titleX": 6, "titleY": 36}},
     "color": {"condition": [{"test": "time(datum.d) >= 1362096000000 && datum.c >= datum.o", "value": "#e02400"}, {"test": "time(datum.d) >= 1362096000000", "value": "#1e5a0a"}, {"test": "datum.c >= datum.o", "value": "#e3241d"}], "value": "#1e58c4"}
    }},
   {"data": {"values": [{"d": "2014-11-30", "v": 225000}]},
    "mark": {"type": "point", "shape": "M-1,0C-1,-0.0812,-0.5523,-0.147,0,-0.147C0.5523,-0.147,1,-0.0812,1,0C1,0.0812,0.5523,0.147,0,0.147C-0.5523,0.147,-1,0.0812,-1,0Z", "size": 81225, "filled": false, "color": "#8a7400", "opacity": 1, "strokeWidth": 1, "clip": true},
    "encoding": {"x": {"field": "d", "type": "temporal", "axis": null}, "y": {"field": "v", "type": "quantitative", "axis": {"orient": "right", "title": "×100", "grid": true, "gridColor": "#e9edf2", "gridDash": [1, 2], "format": ",d", "values": [100000, 200000, 300000, 400000], "labelOverlap": false, "labelSeparation": 0, "labelFont": "Liberation Sans", "labelFontSize": 6, "labelColor": "#222222", "tickSize": 3, "tickColor": "#777777", "domainColor": "#777777", "labelPadding": 2, "titleFont": "Liberation Sans", "titleFontSize": 5.5, "titleFontWeight": "normal", "titleColor": "#222222", "titleAngle": 0, "titleAlign": "left", "titleBaseline": "middle", "titleX": 6, "titleY": 36}}}},
   {"data": {"values": [{"d": "2008-01-01", "v": 510000, "t": "▬"}, {"d": "2016-12-26", "v": 510000, "t": "⊟⊡"}]},
    "mark": {"type": "text", "align": "left", "baseline": "middle", "fontSize": 5.5, "font": "'Liberation Sans','Noto Sans CJK KR'", "color": "#6f7fa6"},
    "encoding": {"x": {"field": "d", "type": "temporal", "axis": null}, "y": {"field": "v", "type": "quantitative", "axis": {"orient": "right", "title": "×100", "grid": true, "gridColor": "#e9edf2", "gridDash": [1, 2], "format": ",d", "values": [100000, 200000, 300000, 400000], "labelOverlap": false, "labelSeparation": 0, "labelFont": "Liberation Sans", "labelFontSize": 6, "labelColor": "#222222", "tickSize": 3, "tickColor": "#777777", "domainColor": "#777777", "labelPadding": 2, "titleFont": "Liberation Sans", "titleFontSize": 5.5, "titleFontWeight": "normal", "titleColor": "#222222", "titleAngle": 0, "titleAlign": "left", "titleBaseline": "middle", "titleX": 6, "titleY": 36}}, "text": {"field": "t"}}},
   {"data": {"values": [{"d": "2008-01-30", "v": 462000, "t": "▪거래량"}]},
    "mark": {"type": "text", "align": "left", "baseline": "middle", "fontSize": 6, "font": "'Liberation Sans','Noto Sans CJK KR'", "color": "#a08c2c"},
    "encoding": {"x": {"field": "d", "type": "temporal", "axis": null}, "y": {"field": "v", "type": "quantitative", "axis": {"orient": "right", "title": "×100", "grid": true, "gridColor": "#e9edf2", "gridDash": [1, 2], "format": ",d", "values": [100000, 200000, 300000, 400000], "labelOverlap": false, "labelSeparation": 0, "labelFont": "Liberation Sans", "labelFontSize": 6, "labelColor": "#222222", "tickSize": 3, "tickColor": "#777777", "domainColor": "#777777", "labelPadding": 2, "titleFont": "Liberation Sans", "titleFontSize": 5.5, "titleFontWeight": "normal", "titleColor": "#222222", "titleAngle": 0, "titleAlign": "left", "titleBaseline": "middle", "titleX": 6, "titleY": 36}}, "text": {"field": "t"}}},
   {"data": {"values": [{"d": "2012-11-15", "v": 390000, "t": "거래증가"}]},
    "mark": {"type": "text", "align": "center", "baseline": "middle", "fontSize": 10.5, "fontWeight": "bold", "color": "#c3161c"},
    "encoding": {"x": {"field": "d", "type": "temporal", "axis": null}, "y": {"field": "v", "type": "quantitative", "axis": {"orient": "right", "title": "×100", "grid": true, "gridColor": "#e9edf2", "gridDash": [1, 2], "format": ",d", "values": [100000, 200000, 300000, 400000], "labelOverlap": false, "labelSeparation": 0, "labelFont": "Liberation Sans", "labelFontSize": 6, "labelColor": "#222222", "tickSize": 3, "tickColor": "#777777", "domainColor": "#777777", "labelPadding": 2, "titleFont": "Liberation Sans", "titleFontSize": 5.5, "titleFontWeight": "normal", "titleColor": "#222222", "titleAngle": 0, "titleAlign": "left", "titleBaseline": "middle", "titleX": 6, "titleY": 36}}, "text": {"field": "t"}}}
  ]
 },
 {
  "width": 686, "height": 52,
  "layer": [
   {"data": {"name": "yrs"},
    "mark": {"type": "rule", "color": "#d3d9e2", "strokeDash": [2, 2], "strokeWidth": 1},
    "encoding": {"x": {"field": "t", "type": "temporal", "scale": {"type": "utc", "domain": [1198281600000, 1487030400000]}, "axis": null}}},
   {"data": {"values": [{"d": "2016-05-26", "v": 11100}]},
    "mark": {"type": "point", "shape": "M-1,0C-1,-0.3016,-0.5523,-0.546,0,-0.546C0.5523,-0.546,1,-0.3016,1,0C1,0.3016,0.5523,0.546,0,0.546C-0.5523,0.546,-1,0.3016,-1,0Z", "size": 4186, "filled": true, "color": "#ffff00", "opacity": 1, "strokeWidth": 0, "clip": true},
    "encoding": {"x": {"field": "d", "type": "temporal", "axis": null}, "y": {"field": "v", "type": "quantitative", "scale": {"domain": [-38050, 40160], "nice": false}, "axis": {"orient": "right", "title": "×100", "grid": true, "gridColor": "#e9edf2", "gridDash": [1, 2], "format": ",d", "values": [-20000, 0, 20000], "labelOverlap": false, "labelSeparation": 0, "labelFont": "Liberation Sans", "labelFontSize": 7.2, "labelColor": "#222222", "tickSize": 3, "tickColor": "#777777", "domainColor": "#777777", "labelPadding": 2, "titleFont": "Liberation Sans", "titleFontSize": 6, "titleFontWeight": "normal", "titleColor": "#222222", "titleAngle": 0, "titleAlign": "left", "titleBaseline": "middle", "titleX": 5, "titleY": 48}}}},
   {"data": {"values": [{"z": 0}]},
    "mark": {"type": "rule", "color": "#9a9a9a", "strokeWidth": 1},
    "encoding": {"y": {"field": "z", "type": "quantitative", "axis": {"orient": "right", "title": "×100", "grid": true, "gridColor": "#e9edf2", "gridDash": [1, 2], "format": ",d", "values": [-20000, 0, 20000], "labelOverlap": false, "labelSeparation": 0, "labelFont": "Liberation Sans", "labelFontSize": 7.2, "labelColor": "#222222", "tickSize": 3, "tickColor": "#777777", "domainColor": "#777777", "labelPadding": 2, "titleFont": "Liberation Sans", "titleFontSize": 6, "titleFontWeight": "normal", "titleColor": "#222222", "titleAngle": 0, "titleAlign": "left", "titleBaseline": "middle", "titleX": 5, "titleY": 48}}}},
   {"data": {"name": "m"},
    "mark": {"type": "bar", "width": 4.8},
    "encoding": {
     "x": {"field": "d", "type": "temporal", "axis": null},
     "y": {"field": "ins", "type": "quantitative", "axis": {"orient": "right", "title": "×100", "grid": true, "gridColor": "#e9edf2", "gridDash": [1, 2], "format": ",d", "values": [-20000, 0, 20000], "labelOverlap": false, "labelSeparation": 0, "labelFont": "Liberation Sans", "labelFontSize": 7.2, "labelColor": "#222222", "tickSize": 3, "tickColor": "#777777", "domainColor": "#777777", "labelPadding": 2, "titleFont": "Liberation Sans", "titleFontSize": 6, "titleFontWeight": "normal", "titleColor": "#222222", "titleAngle": 0, "titleAlign": "left", "titleBaseline": "middle", "titleX": 5, "titleY": 48}},
     "color": {"condition": [{"test": "time(datum.d) >= 1451606400000 && datum.ins >= 0", "value": "#f07a00"}, {"test": "time(datum.d) >= 1451606400000", "value": "#43a300"}, {"test": "datum.ins >= 0", "value": "#f07ab2"}], "value": "#43a3e4"}
    }},
   {"data": {"values": [{"d": "2016-05-26", "v": 11100}]},
    "mark": {"type": "point", "shape": "M-1,0C-1,-0.3016,-0.5523,-0.546,0,-0.546C0.5523,-0.546,1,-0.3016,1,0C1,0.3016,0.5523,0.546,0,0.546C-0.5523,0.546,-1,0.3016,-1,0Z", "size": 4186, "filled": false, "color": "#8a7400", "opacity": 1, "strokeWidth": 1, "clip": true},
    "encoding": {"x": {"field": "d", "type": "temporal", "axis": null}, "y": {"field": "v", "type": "quantitative", "axis": {"orient": "right", "title": "×100", "grid": true, "gridColor": "#e9edf2", "gridDash": [1, 2], "format": ",d", "values": [-20000, 0, 20000], "labelOverlap": false, "labelSeparation": 0, "labelFont": "Liberation Sans", "labelFontSize": 7.2, "labelColor": "#222222", "tickSize": 3, "tickColor": "#777777", "domainColor": "#777777", "labelPadding": 2, "titleFont": "Liberation Sans", "titleFontSize": 6, "titleFontWeight": "normal", "titleColor": "#222222", "titleAngle": 0, "titleAlign": "left", "titleBaseline": "middle", "titleX": 5, "titleY": 48}}}},
   {"data": {"values": [{"d": "2008-01-01", "v": 35500, "t": "▬"}, {"d": "2016-12-26", "v": 35500, "t": "⊟⊡"}]},
    "mark": {"type": "text", "align": "left", "baseline": "middle", "fontSize": 5.5, "font": "'Liberation Sans','Noto Sans CJK KR'", "color": "#6f7fa6"},
    "encoding": {"x": {"field": "d", "type": "temporal", "axis": null}, "y": {"field": "v", "type": "quantitative", "axis": {"orient": "right", "title": "×100", "grid": true, "gridColor": "#e9edf2", "gridDash": [1, 2], "format": ",d", "values": [-20000, 0, 20000], "labelOverlap": false, "labelSeparation": 0, "labelFont": "Liberation Sans", "labelFontSize": 7.2, "labelColor": "#222222", "tickSize": 3, "tickColor": "#777777", "domainColor": "#777777", "labelPadding": 2, "titleFont": "Liberation Sans", "titleFontSize": 6, "titleFontWeight": "normal", "titleColor": "#222222", "titleAngle": 0, "titleAlign": "left", "titleBaseline": "middle", "titleX": 5, "titleY": 48}}, "text": {"field": "t"}}},
   {"data": {"values": [{"d": "2008-01-30", "v": 29600, "t": "▪투자자-기관(수량)"}]},
    "mark": {"type": "text", "align": "left", "baseline": "middle", "fontSize": 6.5, "font": "'Liberation Sans','Noto Sans CJK KR'", "color": "#d0589a"},
    "encoding": {"x": {"field": "d", "type": "temporal", "axis": null}, "y": {"field": "v", "type": "quantitative", "axis": {"orient": "right", "title": "×100", "grid": true, "gridColor": "#e9edf2", "gridDash": [1, 2], "format": ",d", "values": [-20000, 0, 20000], "labelOverlap": false, "labelSeparation": 0, "labelFont": "Liberation Sans", "labelFontSize": 7.2, "labelColor": "#222222", "tickSize": 3, "tickColor": "#777777", "domainColor": "#777777", "labelPadding": 2, "titleFont": "Liberation Sans", "titleFontSize": 6, "titleFontWeight": "normal", "titleColor": "#222222", "titleAngle": 0, "titleAlign": "left", "titleBaseline": "middle", "titleX": 5, "titleY": 48}}, "text": {"field": "t"}}}
  ]
 },
 {
  "width": 686, "height": 56,
  "layer": [
   {"data": {"name": "yrs"},
    "mark": {"type": "rule", "color": "#d3d9e2", "strokeDash": [2, 2], "strokeWidth": 1},
    "encoding": {"x": {"field": "t", "type": "temporal", "scale": {"type": "utc", "domain": [1198281600000, 1487030400000]}, "axis": {"title": null, "grid": false, "format": "%Y", "tickCount": {"interval": "year", "step": 1}, "labelAlign": "left", "labelBaseline": "top", "labelOffset": 2, "tickSize": 9, "labelPadding": -8, "labelFlush": false, "labelOverlap": false, "labelFont": "Liberation Sans", "labelFontSize": 7, "labelColor": "#222222", "tickColor": "#666666", "domainColor": "#888888"}}}},
   {"data": {"values": [{"d": "2016-04-28", "v": 6200}]},
    "mark": {"type": "point", "shape": "M-1,0C-1,-0.2673,-0.5523,-0.484,0,-0.484C0.5523,-0.484,1,-0.2673,1,0C1,0.2673,0.5523,0.484,0,0.484C-0.5523,0.484,-1,0.2673,-1,0Z", "size": 2673, "filled": true, "color": "#ffff00", "opacity": 1, "strokeWidth": 0, "clip": true},
    "encoding": {"x": {"field": "d", "type": "temporal", "title": null}, "y": {"field": "v", "type": "quantitative", "scale": {"domain": [-35930, 63190], "nice": false}, "axis": {"orient": "right", "title": "×100", "grid": true, "gridColor": "#e9edf2", "gridDash": [1, 2], "format": ",d", "values": [-20000, 0, 20000, 40000], "labelOverlap": false, "labelSeparation": 0, "labelFont": "Liberation Sans", "labelFontSize": 7.2, "labelColor": "#222222", "tickSize": 3, "tickColor": "#777777", "domainColor": "#777777", "labelPadding": 2, "titleFont": "Liberation Sans", "titleFontSize": 6, "titleFontWeight": "normal", "titleColor": "#222222", "titleAngle": 0, "titleAlign": "left", "titleBaseline": "middle", "titleX": 5, "titleY": 54}}}},
   {"data": {"values": [{"z": 0}]},
    "mark": {"type": "rule", "color": "#9a9a9a", "strokeWidth": 1},
    "encoding": {"y": {"field": "z", "type": "quantitative", "axis": {"orient": "right", "title": "×100", "grid": true, "gridColor": "#e9edf2", "gridDash": [1, 2], "format": ",d", "values": [-20000, 0, 20000, 40000], "labelOverlap": false, "labelSeparation": 0, "labelFont": "Liberation Sans", "labelFontSize": 7.2, "labelColor": "#222222", "tickSize": 3, "tickColor": "#777777", "domainColor": "#777777", "labelPadding": 2, "titleFont": "Liberation Sans", "titleFontSize": 6, "titleFontWeight": "normal", "titleColor": "#222222", "titleAngle": 0, "titleAlign": "left", "titleBaseline": "middle", "titleX": 5, "titleY": 54}}}},
   {"data": {"name": "m"},
    "mark": {"type": "bar", "width": 4.8},
    "encoding": {
     "x": {"field": "d", "type": "temporal", "title": null},
     "y": {"field": "frn", "type": "quantitative", "axis": {"orient": "right", "title": "×100", "grid": true, "gridColor": "#e9edf2", "gridDash": [1, 2], "format": ",d", "values": [-20000, 0, 20000, 40000], "labelOverlap": false, "labelSeparation": 0, "labelFont": "Liberation Sans", "labelFontSize": 7.2, "labelColor": "#222222", "tickSize": 3, "tickColor": "#777777", "domainColor": "#777777", "labelPadding": 2, "titleFont": "Liberation Sans", "titleFontSize": 6, "titleFontWeight": "normal", "titleColor": "#222222", "titleAngle": 0, "titleAlign": "left", "titleBaseline": "middle", "titleX": 5, "titleY": 54}},
     "color": {"condition": [{"test": "time(datum.d) >= 1451606400000 && datum.frn >= 0", "value": "#f07a00"}, {"test": "time(datum.d) >= 1451606400000", "value": "#43a300"}, {"test": "datum.frn >= 0", "value": "#f07ab2"}], "value": "#43a3e4"}
    }},
   {"data": {"values": [{"d": "2016-04-28", "v": 6200}]},
    "mark": {"type": "point", "shape": "M-1,0C-1,-0.2673,-0.5523,-0.484,0,-0.484C0.5523,-0.484,1,-0.2673,1,0C1,0.2673,0.5523,0.484,0,0.484C-0.5523,0.484,-1,0.2673,-1,0Z", "size": 2673, "filled": false, "color": "#8a7400", "opacity": 1, "strokeWidth": 1, "clip": true},
    "encoding": {"x": {"field": "d", "type": "temporal", "title": null}, "y": {"field": "v", "type": "quantitative", "axis": {"orient": "right", "title": "×100", "grid": true, "gridColor": "#e9edf2", "gridDash": [1, 2], "format": ",d", "values": [-20000, 0, 20000, 40000], "labelOverlap": false, "labelSeparation": 0, "labelFont": "Liberation Sans", "labelFontSize": 7.2, "labelColor": "#222222", "tickSize": 3, "tickColor": "#777777", "domainColor": "#777777", "labelPadding": 2, "titleFont": "Liberation Sans", "titleFontSize": 6, "titleFontWeight": "normal", "titleColor": "#222222", "titleAngle": 0, "titleAlign": "left", "titleBaseline": "middle", "titleX": 5, "titleY": 54}}}},
   {"data": {"values": [{"d": "2008-01-01", "v": 58000, "t": "▬"}, {"d": "2016-12-26", "v": 58000, "t": "⊟⊡"}]},
    "mark": {"type": "text", "align": "left", "baseline": "middle", "fontSize": 5.5, "font": "'Liberation Sans','Noto Sans CJK KR'", "color": "#6f7fa6"},
    "encoding": {"x": {"field": "d", "type": "temporal", "title": null}, "y": {"field": "v", "type": "quantitative", "axis": {"orient": "right", "title": "×100", "grid": true, "gridColor": "#e9edf2", "gridDash": [1, 2], "format": ",d", "values": [-20000, 0, 20000, 40000], "labelOverlap": false, "labelSeparation": 0, "labelFont": "Liberation Sans", "labelFontSize": 7.2, "labelColor": "#222222", "tickSize": 3, "tickColor": "#777777", "domainColor": "#777777", "labelPadding": 2, "titleFont": "Liberation Sans", "titleFontSize": 6, "titleFontWeight": "normal", "titleColor": "#222222", "titleAngle": 0, "titleAlign": "left", "titleBaseline": "middle", "titleX": 5, "titleY": 54}}, "text": {"field": "t"}}},
   {"data": {"values": [{"d": "2008-01-30", "v": 49000, "t": "▪투자자-외국인(수량)"}]},
    "mark": {"type": "text", "align": "left", "baseline": "middle", "fontSize": 6.5, "font": "'Liberation Sans','Noto Sans CJK KR'", "color": "#d0589a"},
    "encoding": {"x": {"field": "d", "type": "temporal", "title": null}, "y": {"field": "v", "type": "quantitative", "axis": {"orient": "right", "title": "×100", "grid": true, "gridColor": "#e9edf2", "gridDash": [1, 2], "format": ",d", "values": [-20000, 0, 20000, 40000], "labelOverlap": false, "labelSeparation": 0, "labelFont": "Liberation Sans", "labelFontSize": 7.2, "labelColor": "#222222", "tickSize": 3, "tickColor": "#777777", "domainColor": "#777777", "labelPadding": 2, "titleFont": "Liberation Sans", "titleFontSize": 6, "titleFontWeight": "normal", "titleColor": "#222222", "titleAngle": 0, "titleAlign": "left", "titleBaseline": "middle", "titleX": 5, "titleY": 54}}, "text": {"field": "t"}}}
  ]
 }
]
}
